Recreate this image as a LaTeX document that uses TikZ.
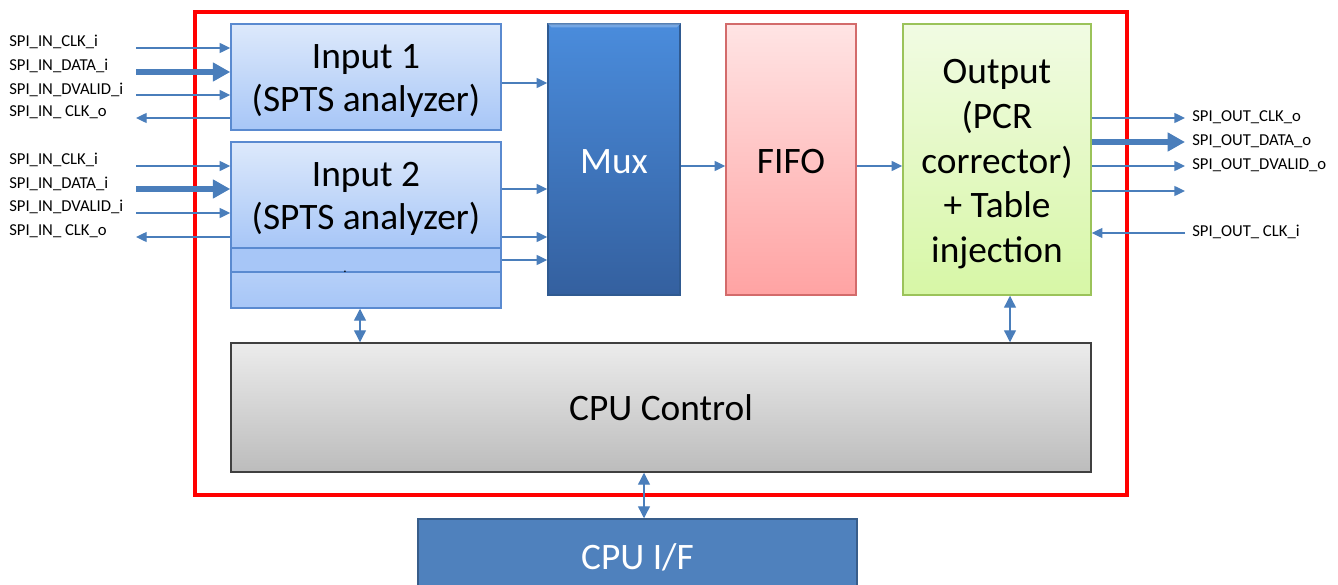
\documentclass[tikz,border=0pt]{standalone}
\usepackage{fontspec}
\setmainfont{Carlito}
\usetikzlibrary{arrows.meta,fit}
\definecolor{arr}{RGB}{74,126,187}
\definecolor{inTop}{RGB}{221,233,251}
\definecolor{inBot}{RGB}{167,198,247}
\definecolor{inLine}{RGB}{90,138,208}
\definecolor{muxTop}{RGB}{74,140,220}
\definecolor{muxBot}{RGB}{52,96,159}
\definecolor{muxLine}{RGB}{47,90,145}
\definecolor{fifoTop}{RGB}{255,228,228}
\definecolor{fifoBot}{RGB}{255,163,163}
\definecolor{fifoLine}{RGB}{211,107,107}
\definecolor{outTop}{RGB}{241,251,227}
\definecolor{outBot}{RGB}{215,247,166}
\definecolor{outLine}{RGB}{155,195,90}
\definecolor{cpuTop}{RGB}{236,236,236}
\definecolor{cpuBot}{RGB}{188,188,188}
\definecolor{cpuLine}{RGB}{64,64,64}
\definecolor{ifFill}{RGB}{79,129,189}
\definecolor{ifLine}{RGB}{56,93,138}
\tikzset{
  blk/.style={draw, line width=1.1pt, inner sep=0pt},
  inbox/.style={blk, draw=inLine, top color=inTop, bottom color=inBot},
  muxbox/.style={blk, draw=muxLine, top color=muxTop, bottom color=muxBot},
  fifobox/.style={blk, draw=fifoLine, top color=fifoTop, bottom color=fifoBot},
  outbox/.style={blk, draw=outLine, top color=outTop, bottom color=outBot},
  cpubox/.style={blk, draw=cpuLine, top color=cpuTop, bottom color=cpuBot},
  ifbox/.style={blk, draw=ifLine, fill=ifFill},
  txt/.style={inner sep=0pt, align=center, font=\fontsize{28}{32.5}\selectfont},
  frame/.style={draw=red, line width=2.4pt, inner sep=0pt},
  sig/.style={draw=arr, line width=1pt, -{Triangle[length=8pt,width=7.5pt]}},
  sigback/.style={draw=arr, line width=1pt, {Triangle[length=8pt,width=7.5pt]}-},
  bus/.style={draw=arr, line width=4.5pt, -{Triangle[length=13pt,width=13.5pt]}},
  bidir/.style={draw=arr, line width=1pt, {Triangle[length=9pt,width=9pt]}-{Triangle[length=9pt,width=9pt]}},
  lab/.style={font=\fontsize{12.5}{14}\selectfont, inner sep=0pt, anchor=base west},
}
\begin{document}
\begin{tikzpicture}[x=0.75pt,y=-0.75pt]
\useasboundingbox (0,0) rectangle (1338,585);
\node[frame, fit={(195,12)(1127,495)}] (frame) {};

% input blocks
\node[inbox, fit={(231,24)(501,130)}] (in1) {};
\node[inbox, fit={(231,170)(501,308)}] (in4) {};
\node[inbox, top color=inBot, fit={(231,160)(501,272)}] (in3) {};
\node[inner sep=0pt, anchor=base, font=\fontsize{10}{12}\selectfont] (dot) at (345,272) {.};
\node[inbox, fit={(231,142)(501,248)}] (in2) {};

\node[muxbox, fit={(548,24)(680,295)}] (mux) {};
\fill[muxTop!60!white, opacity=0.6] (mux.north west) -- (mux.north east) -- ([xshift=-3pt,yshift=-3pt]mux.north east) -- ([xshift=3pt,yshift=-3pt]mux.north west) -- cycle;
\node[fifobox, fit={(726,24)(856,295)}] (fifo) {};
\node[outbox, fit={(903,24)(1091,295)}] (out) {};
\node[cpubox, fit={(231,343)(1091,472)}] (cpu) {};
\node[ifbox, fit={(418,519)(857,595)}] (cpuif) {};

\node[txt, yshift=-3pt] (t1) at (in1.center) {Input 1\\(SPTS analyzer)};
\node[txt, yshift=-3pt] (t2) at (in2.center) {Input 2\\(SPTS analyzer)};
\node[txt, text=white, yshift=-1.5pt] (t3) at (mux.center) {Mux};
\node[txt, yshift=-1.5pt] (t4) at (fifo.center) {FIFO};
\node[txt, font=\fontsize{28}{33.5}\selectfont, yshift=-3.5pt] (t5) at (out.center) {Output\\(PCR\\corrector)\\+ Table\\injection};
\node[txt] (t6) at (cpu.center) {CPU Control};
\node[txt, text=white] (t7) at (cpuif.center) {CPU I/F};

% left labels and signals, input 1
\node[lab] (l1) at (9,47) {SPI\_IN\_CLK\_i};
\node[lab] (l2) at (9,71) {SPI\_IN\_DATA\_i};
\node[lab] (l3) at (9,94) {SPI\_IN\_DVALID\_i};
\node[lab] (l4) at (9,117) {SPI\_IN\_ CLK\_o};
\coordinate (a1) at (136,48);
\coordinate (a2) at (136,72);
\coordinate (a3) at (136,95);
\coordinate (a4) at (136,118);
\draw[sig] (a1) -- (in1.west |- a1);
\draw[bus] (a2) -- (in1.west |- a2);
\draw[sig] (a3) -- (in1.west |- a3);
\draw[sigback] (a4) -- (in1.west |- a4);

% input 2
\node[lab] (m1) at (9,164) {SPI\_IN\_CLK\_i};
\node[lab] (m2) at (9,188) {SPI\_IN\_DATA\_i};
\node[lab] (m3) at (9,211) {SPI\_IN\_DVALID\_i};
\node[lab] (m4) at (9,235) {SPI\_IN\_ CLK\_o};
\coordinate (b1) at (136,166);
\coordinate (b2) at (136,189);
\coordinate (b3) at (136,213);
\coordinate (b4) at (136,237);
\draw[sig] (b1) -- (in2.west |- b1);
\draw[bus] (b2) -- (in2.west |- b2);
\draw[sig] (b3) -- (in2.west |- b3);
\draw[sigback] (b4) -- (in2.west |- b4);

% inputs to mux
\draw[sig] (in1.east |- 0,83) -- (mux.west |- 0,83);
\draw[sig] (in2.east |- 0,189) -- (mux.west |- 0,189);
\draw[sig] (in2.east |- 0,237) -- (mux.west |- 0,237);
\draw[sig] (in3.east |- 0,260) -- (mux.west |- 0,260);

% chain
\draw[sig] (mux.east |- 0,166) -- (fifo.west |- 0,166);
\draw[sig] (fifo.east |- 0,166) -- (out.west |- 0,166);

% outputs
\coordinate (c1) at (1185,118);
\coordinate (c2) at (1185,142);
\coordinate (c3) at (1185,166);
\coordinate (c4) at (1185,191);
\coordinate (c5) at (1185,233);
\draw[sig] (out.east |- c1) -- (c1);
\draw[bus] (out.east |- c2) -- (c2);
\draw[sig] (out.east |- c3) -- (c3);
\draw[sig] (out.east |- c4) -- (c4);
\draw[sig] (c5) -- (out.east |- c5);
\node[lab] (r1) at (1192,121.5) {SPI\_OUT\_CLK\_o};
\node[lab] (r2) at (1192,145) {SPI\_OUT\_DATA\_o};
\node[lab] (r3) at (1192,169) {SPI\_OUT\_DVALID\_o};
\node[lab] (r5) at (1192,236) {SPI\_OUT\_ CLK\_i};

% control
\draw[bidir] (in4.south -| 360,0) -- (cpu.north -| 360,0);
\draw[bidir] (out.south -| 1010,0) -- (cpu.north -| 1010,0);
\draw[bidir] (cpu.south -| 644,0) -- (cpuif.north -| 644,0);
\end{tikzpicture}
\end{document}
